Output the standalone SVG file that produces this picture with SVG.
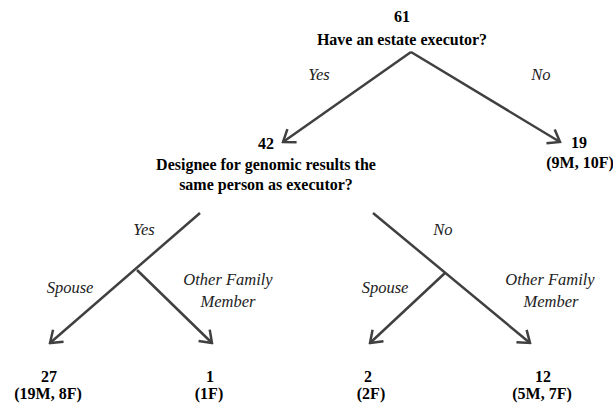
<svg xmlns="http://www.w3.org/2000/svg" width="613" height="403" viewBox="0 0 613 403">
<style>
.ln{stroke:#404040;stroke-width:2.5;fill:none}
</style>
<defs>
<marker id="ah" markerUnits="userSpaceOnUse" viewBox="-14 -10 16 20" markerWidth="16" markerHeight="20" refX="0" refY="0" orient="auto">
<path d="M-11,-8 L0,0 L-11,8" fill="none" stroke="#404040" stroke-width="2.5"/>
</marker>
</defs>
<rect width="613" height="403" fill="#fff"/>
<g id="connectors">
<path class="ln" d="M411,52 L283,142" marker-end="url(#ah)"/>
<path class="ln" d="M411,52 L560,142" marker-end="url(#ah)"/>
<path class="ln" d="M200,213 L50,343" marker-end="url(#ah)"/>
<path class="ln" d="M137,270 L212,343" marker-end="url(#ah)"/>
<path class="ln" d="M373,213 L530,343" marker-end="url(#ah)"/>
<path class="ln" d="M445,273 L370,343" marker-end="url(#ah)"/>
</g>
<g id="labels" font-family="Times New Roman, Liberation Serif, serif" font-style="italic" font-size="16.5" fill="#222" text-anchor="middle">
<text x="319" y="80">Yes</text>
<text x="541" y="80">No</text>
<text x="144" y="235">Yes</text>
<text x="70" y="293">Spouse</text>
<text x="228" y="285">Other Family</text>
<text x="228" y="307">Member</text>
<text x="443" y="235">No</text>
<text x="385" y="293">Spouse</text>
<text x="550" y="285">Other Family</text>
<text x="551" y="307">Member</text>
</g>
<g font-family="Times New Roman, Liberation Serif, serif" font-weight="bold" font-size="16" fill="#000" text-anchor="middle">
<g id="n61"><text x="402" y="22">61</text><text x="402" y="45">Have an estate executor?</text></g>
<g id="n42"><text x="266" y="149">42</text><text x="266" y="170">Designee for genomic results the</text><text x="266" y="190">same person as executor?</text></g>
<g id="n19"><text x="579" y="148">19</text><text x="580" y="168">(9M, 10F)</text></g>
<g id="n27"><text x="49" y="382">27</text><text x="48" y="399">(19M, 8F)</text></g>
<g id="n1"><text x="210" y="382">1</text><text x="209" y="399">(1F)</text></g>
<g id="n2"><text x="368" y="382">2</text><text x="371" y="399">(2F)</text></g>
<g id="n12"><text x="543" y="382">12</text><text x="542" y="399">(5M, 7F)</text></g>
</g>
</svg>
